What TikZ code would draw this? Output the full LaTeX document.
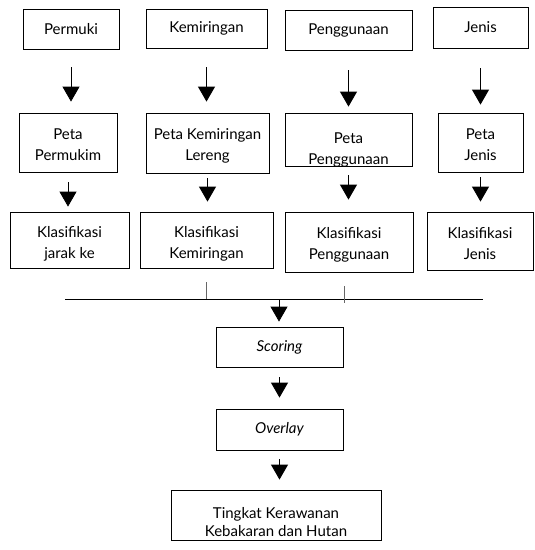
\documentclass[tikz,border=0pt]{standalone}
\usepackage{fontspec}
\setmainfont{Lato}
\usetikzlibrary{arrows.meta}
\begin{document}
\begin{tikzpicture}[x=1pt,y=-1pt,
  box/.style={draw=black,line width=0.8pt,inner sep=0pt,align=center,
    font=\fontsize{15}{21}\selectfont},
  txt/.style={inner sep=0pt,align=center,font=\fontsize{15}{21}\selectfont},
  arr/.style={draw=black,line width=0.8pt,-{Triangle[width=17pt,length=15pt]}},
  tick/.style={draw=black!60,line width=0.8pt}]
\useasboundingbox (0,0) rectangle (535,550);
% row 1
\node[box,minimum width=96pt,minimum height=40pt] (p1) at (71,29) {Permuki};
\node[box,minimum width=121pt,minimum height=39pt] (k1) at (206.5,28.5) {Kemiringan};
\node[box,minimum width=127pt,minimum height=40pt] (g1) at (348.5,30) {Penggunaan};
\node[box,minimum width=95pt,minimum height=41pt] (j1) at (480.5,27.5) {Jenis};
% row 2
\node[box,minimum width=98pt,minimum height=59pt,
  label={[txt,yshift=-2.5pt]center:Peta\\Permukim}] (p2) at (68,142.5) {};
\node[box,minimum width=123pt,minimum height=60pt,
  label={[txt,yshift=-2.5pt]center:Peta Kemiringan\\Lereng}] (k2) at (207.5,143) {};
\node[box,minimum width=127pt,minimum height=53pt] (g2) at (348.5,139.5) {};
\begin{scope}
\clip (g2.south west) rectangle (g2.north east);
\node[txt] (g2t) at (348.5,150) {Peta\\Penggunaan};
\end{scope}
\node[box,minimum width=85pt,minimum height=59pt,
  label={[txt,yshift=-2.5pt]center:Peta\\Jenis}] (j2) at (480.5,142.5) {};
% row 3
\node[box,minimum width=119pt,minimum height=56pt,
  label={[txt,yshift=-4pt]center:Klasifikasi\\jarak ke}] (p3) at (69.5,240) {};
\node[box,minimum width=133pt,minimum height=56pt,
  label={[txt,yshift=-4pt]center:Klasifikasi\\Kemiringan}] (k3) at (206.5,240) {};
\node[box,minimum width=128pt,minimum height=60pt,
  label={[txt,yshift=-3pt]center:Klasifikasi\\Penggunaan}] (g3) at (349,242) {};
\node[box,minimum width=106pt,minimum height=58pt,
  label={[txt,yshift=-3pt]center:Klasifikasi\\Jenis}] (j3) at (480,241) {};
% lower chain
\node[box,minimum width=127pt,minimum height=40pt] (sc) at (279.5,347) {\itshape Scoring};
\node[box,minimum width=127pt,minimum height=41pt] (ov) at (279.5,429.5) {\itshape Overlay};
\node[box,minimum width=210pt,minimum height=50pt,
  label={[txt,font=\fontsize{15}{18}\selectfont,yshift=-7pt]center:Tingkat Kerawanan\\Kebakaran dan Hutan}] (fin) at (276,515) {};
% arrows row 1 -> row 2
\draw[arr,shorten <=18pt,shorten >=11pt] (p1.south) -- (p1.south |- p2.north);
\draw[arr,shorten <=19pt,shorten >=11pt] (k1.south) -- (k1.south |- k2.north);
\draw[arr,shorten <=20pt,shorten >=6pt] (g1.south) -- (g1.south |- g2.north);
\draw[arr,shorten <=20pt,shorten >=8pt] (j1.south) -- (j1.south |- j2.north);
% arrows row 2 -> row 3
\draw[arr,shorten <=10pt,shorten >=5pt] (p2.south) -- (p2.south |- p3.north);
\draw[arr,shorten <=5pt,shorten >=10pt] (k2.south) -- (k2.south |- k3.north);
\draw[arr,shorten <=9pt,shorten >=12pt] (g2.south) -- (g2.south |- g3.north);
\draw[arr,shorten <=5pt,shorten >=10pt] (j2.south) -- (j2.south |- j3.north);
% collector line
\coordinate (hl) at (65,299);
\coordinate (hr) at (483,299);
\coordinate (hm) at (279,299);
\coordinate (t1a) at (206,282);
\coordinate (t1b) at (206,299);
\coordinate (t2a) at (344,286);
\coordinate (t2b) at (344,303);
\draw[line width=0.8pt] (hl) -- (hr);
\draw[tick] (t1a) -- (t1b);
\draw[tick] (t2a) -- (t2b);
\draw[arr,shorten >=5pt] (hm) -- (hm |- sc.north);
\draw[arr,shorten <=10pt,shorten >=11pt] (sc.south) -- (ov.north);
\draw[arr,shorten <=9pt,shorten >=10pt] (ov.south) -- (ov.south |- fin.north);
\end{tikzpicture}
\end{document}
